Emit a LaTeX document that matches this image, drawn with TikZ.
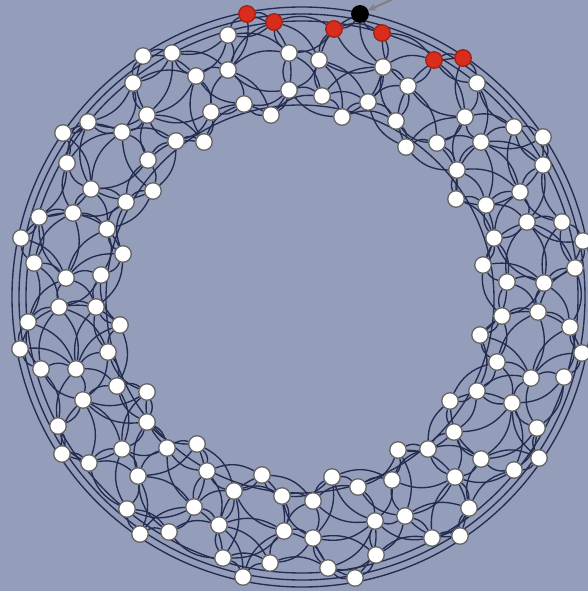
\documentclass[tikz,border=0pt]{standalone}
\usetikzlibrary{arrows.meta}
\definecolor{bgc}{RGB}{148,157,186}
\definecolor{edgec}{RGB}{36,44,80}
\definecolor{redn}{RGB}{216,44,28}
\pgfdeclarelayer{back}
\pgfdeclarelayer{edges}
\pgfsetlayers{back,edges,main}
\begin{document}
\begin{tikzpicture}[x=1pt,y=-1pt,
  wnode/.style={circle,draw=black!60,line width=1.3pt,fill=white,minimum size=16.5pt,inner sep=0pt},
  rnode/.style={wnode,fill=redn,draw=redn!75!black},
  bnode/.style={wnode,fill=black,draw=black},
  edge/.style={draw=edgec,line width=1.35pt},
  ring/.style={draw=edgec,line width=1.35pt},
  pointer/.style={draw=black!50,line width=2pt,-{Stealth[length=8pt,width=7pt]}}]
\begin{pgfonlayer}{back}
\fill[bgc] (0,0) rectangle (588,591);
\end{pgfonlayer}
\useasboundingbox (0,0) rectangle (588,591);
% white nodes
\foreach \x/\y [count=\i] in {
228/35,289/53,319/60,228/70,383/67,408/86,477/83,289/90,322/96,368/102,
244/104,211/112,271/115,342/117,396/121,465/117,204/142,406/147,437/143,481/142,
514/127,543/137,143/56,172/53,133/83,196/76,147/115,88/122,63/133,122/132,
176/141,67/163,148/160,91/189,126/202,153/191,39/217,73/213,107/229,21/238,
123/254,34/263,66/278,101/275,59/307,96/307,28/322,120/325,20/349,108/352,
41/369,76/369,117/386,147/392,83/400,58/426,147/422,122/449,62/454,89/463,
138/476,127/509,543/165,457/170,520/192,456/199,486/205,527/222,562/222,583/241,
494/238,483/265,575/268,507/282,544/283,502/316,538/312,570/327,480/335,582/353,
497/362,531/378,564/377,477/391,450/401,512/403,454/432,537/428,481/459,539/458,
514/470,455/477,469/508,167/448,197/444,398/450,428/449,207/471,262/475,332/477,
392/480,234/491,282/496,313/501,358/487,194/507,405/516,375/521,219/525,284/531,
313/538,140/534,169/532,432/538,460/536,376/555,223/558,270/563,328/568,243/577,
355/578}
  {\node[wnode] (n\i) at (\x,\y) {};}
% red nodes
\foreach \x/\y [count=\i from 122] in {247/14,274/22,334/29,382/33,434/60,463/58}
  {\node[rnode] (n\i) at (\x,\y) {};}
\node[bnode] (n128) at (360,14) {};
\coordinate (arrS) at (404,-6);
\draw[pointer] (arrS) -- (n128);
% edges
\begin{pgfonlayer}{edges}
\foreach \r in {290,283,276}{\draw[ring] (302,297) circle[radius=\r pt];}
\draw[ring] (300,299) circle[radius=194pt];
\foreach \i in {1,...,128}{
  \foreach \j in {\i,...,128}{
    \ifnum\j>\i
      \pgfpointdiff{\pgfpointanchor{n\i}{center}}{\pgfpointanchor{n\j}{center}}
      \pgfgetlastxy{\dx}{\dy}
      \pgfmathtruncatemacro\ok{veclen(\dx,\dy)<68}
      \ifnum\ok=1
        \pgfmathtruncatemacro\prty{mod(\i+\j,2)}
        \ifnum\prty=1
          \draw[edge] (n\i) to[bend left=24] (n\j);
        \else
          \draw[edge] (n\i) to[bend right=24] (n\j);
        \fi
      \fi
    \fi
  }
}
\end{pgfonlayer}
\end{tikzpicture}
\end{document}
